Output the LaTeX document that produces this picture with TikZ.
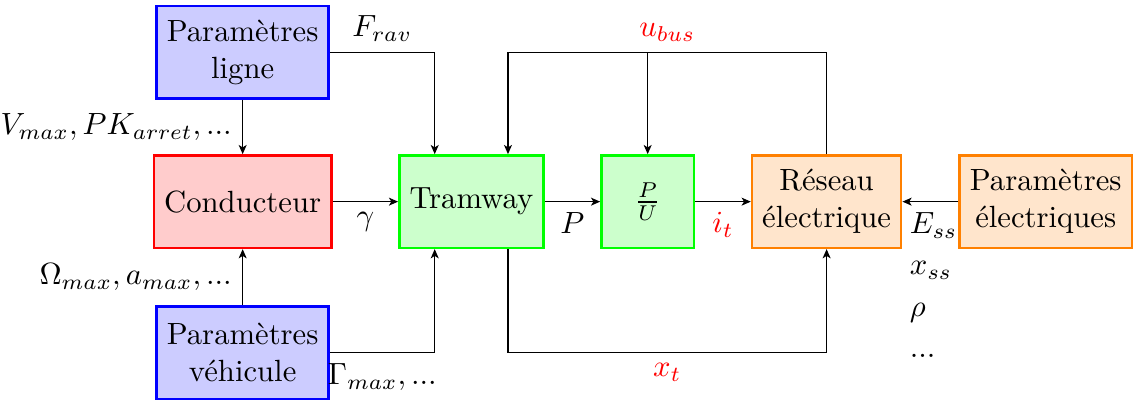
\documentclass[tikz,border=0pt]{standalone}
\usepackage{amsmath,amssymb}
\usepackage{xcolor}
\usepackage{tikz}
\usetikzlibrary{positioning,calc,arrows.meta}

\begin{document}
\begin{tikzpicture}[->, >={Stealth[length=3pt, width=2.6pt, inset=0.8pt]}, block/.style = {draw, thick, minimum height=1.06cm, minimum width=1.06cm, align=center}, param/.style = {block, draw=blue, fill=blue!20}, every edge/.append style={thin}]

\useasboundingbox (0,0) rectangle (12.98,-4.616);

%blocks
\node[param] (ligne) at (2.78,-0.60) {Paramètres\\ligne};
\node[block, draw=red, fill=red!20] (conducteur) at (2.78,-2.31) {Conducteur};
\node[param] (vehicule) at (2.78,-4.04) {Paramètres\\véhicule};
\node[block, draw=green, fill=green!20] (tramway) at (5.40,-2.31) {Tramway};
\node[block, draw=green, fill=green!20] (pu) at (7.42,-2.31) {$\frac{P}{U}$};
\node[block, draw=orange, fill=orange!20] (reseau) at (9.47,-2.31) {Réseau\\électrique};
\node[block, draw=orange, fill=orange!20] (elec) at (11.98,-2.31) {Paramètres\\électriques};

\coordinate (tramNW) at ($(tramway.north)!0.5!(tramway.north west)$);
\coordinate (tramSW) at ($(tramway.south)!0.5!(tramway.south west)$);
\coordinate (tramN) at ($(tramway.north)!0.5!(tramway.north east)$);
\coordinate (tramS) at ($(tramway.south)!0.5!(tramway.south east)$);

\path 
    (ligne) edge node[left] {$V_{max}, PK_{arret}, ...$} (conducteur)
    (vehicule) edge node[left] {$\Omega_{max}, a_{max}, ...$} (conducteur)
    (conducteur) edge node[below] {$\gamma$} (tramway)
    (tramway) edge node[below] {$P$} (pu)
    (pu) edge node[below, red] {$i_t$} (reseau)
    (elec) edge node[below, align=left, xshift=1pt] {$E_{ss}$\\[1.5pt]$x_{ss}$\\[1.5pt]$\rho$\\[1.5pt]...} (reseau);

%inputs of the tramway
\draw (ligne.east) -| node[pos=0.25, above] {$F_{rav}$} (tramNW);
\draw (vehicule.east) -| node[pos=0.25, below] {$\Gamma_{max}, ...$} (tramSW);

%feedback loops
\draw (reseau.north) -- (reseau.north |- ligne) -- node[above, red] {$u_{bus}$} (tramN |- ligne) -- (tramN);
\draw (pu.north |- ligne) -- (pu.north);
\draw (tramS) -- (tramS |- vehicule) -- node[below, red] {$x_t$} (reseau.south |- vehicule) -- (reseau.south);
\end{tikzpicture}
\end{document}
